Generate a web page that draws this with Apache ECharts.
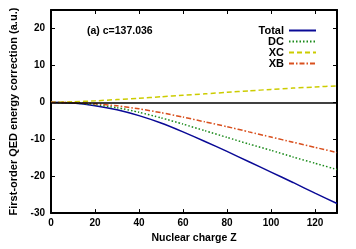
<!DOCTYPE html>
<html><head><meta charset="utf-8">
<script src="https://cdn.jsdelivr.net/npm/echarts@6/dist/echarts.min.js"></script>
<style>html,body{margin:0;padding:0;background:#fff}#c{width:356px;height:249px}</style>
</head><body><div id="c"></div>
<script>
const zValues = [0, 10, 20, 30, 40, 50, 60, 70, 80, 90, 100, 110, 120, 130];
const totalValues = [0, -0.2, -0.9, -2.0, -3.6, -5.6, -8.0, -10.6, -13.3, -16.1, -18.9, -21.7, -24.6, -27.4];
const dcValues = [0, -0.15, -0.65, -1.45, -2.7, -4.2, -5.9, -7.7, -9.5, -11.3, -13.0, -14.8, -16.5, -18.2];
const xcValues = [0, 0.15, 0.4, 0.75, 1.1, 1.5, 1.9, 2.3, 2.7, 3.1, 3.5, 3.85, 4.15, 4.45];
const xbValues = [0, -0.1, -0.4, -0.95, -1.75, -2.8, -4.0, -5.3, -6.6, -8.0, -9.4, -10.8, -12.2, -13.6];
const seriesNames = ['Total', 'DC', 'XC', 'XB'];
const annotation = '(a) c=137.036';

const pair = arr => zValues.map((z, i) => [z, arr[i]]);
const font = '"Liberation Sans", Arial, sans-serif';
const chart = echarts.init(document.getElementById('c'), null, {renderer: 'canvas'});
const axisCommon = {
  axisLine: {show: true, onZero: false, lineStyle: {color: '#000', width: 2}},
  axisTick: {show: true, inside: true, length: 4, lineStyle: {color: '#000', width: 1}},
  splitLine: {show: false}
};
function lineSeries(name, data, color, type, width) {
  return {name, type: 'line', data: pair(data), symbol: 'none', showSymbol: false,
    smooth: 0.2,
    lineStyle: {color, type, width}, itemStyle: {color}, z: 3};
}
const s0 = lineSeries(seriesNames[0], totalValues, '#0a0a96', 'solid', 1.5);
s0.markLine = {silent: true, symbol: 'none', label: {show: false},
  lineStyle: {color: '#000', type: 'solid', width: 1.5}, data: [{yAxis: 0}]};
chart.setOption({
  animation: false,
  grid: {left: 43, right: 19, top: 10, bottom: 32},
  textStyle: {fontFamily: font},
  legend: {
    data: seriesNames, orient: 'vertical', align: 'right', right: 39, top: 25,
    padding: 0, itemWidth: 27, itemHeight: 10, itemGap: 0,
    itemStyle: {opacity: 0},
    textStyle: {fontFamily: font, fontWeight: 'bold', fontSize: 11, color: '#000', lineHeight: 10}
  },
  graphic: [{type: 'text', left: 87, top: 26,
    style: {text: annotation, font: 'bold 10.5px ' + font, fill: '#000'}}],
  xAxis: [
    Object.assign({type: 'value', min: 0, max: 130, interval: 20, position: 'bottom',
      name: 'Nuclear charge Z', nameLocation: 'middle', nameGap: 17,
      nameTextStyle: {fontFamily: font, fontWeight: 'bold', fontSize: 10.5, color: '#000'},
      axisLabel: {showMaxLabel: false, margin: 5, fontFamily: font, fontWeight: 'bold', fontSize: 10, color: '#000'}}, axisCommon),
    Object.assign({type: 'value', min: 0, max: 130, interval: 20, position: 'top',
      axisLabel: {show: false}}, axisCommon)
  ],
  yAxis: [
    Object.assign({type: 'value', min: -30, max: 25, interval: 10, position: 'left',
      name: 'First-order QED energy correction (a.u.)', nameLocation: 'middle', nameGap: 32,
      nameTextStyle: {fontFamily: font, fontWeight: 'bold', fontSize: 11, color: '#000'},
      axisLabel: {showMaxLabel: false, margin: 6, fontFamily: font, fontWeight: 'bold', fontSize: 10, color: '#000'}}, axisCommon),
    Object.assign({type: 'value', min: -30, max: 25, interval: 10, position: 'right',
      axisLabel: {show: false}}, axisCommon)
  ],
  series: [
    s0,
    lineSeries(seriesNames[1], dcValues, '#1a8a1a', [1.5, 2], 1.5),
    lineSeries(seriesNames[2], xcValues, '#cccc00', [5, 3], 1.5),
    lineSeries(seriesNames[3], xbValues, '#d9501e', [5, 2, 1.5, 2], 1.5)
  ]
});
</script></body></html>
